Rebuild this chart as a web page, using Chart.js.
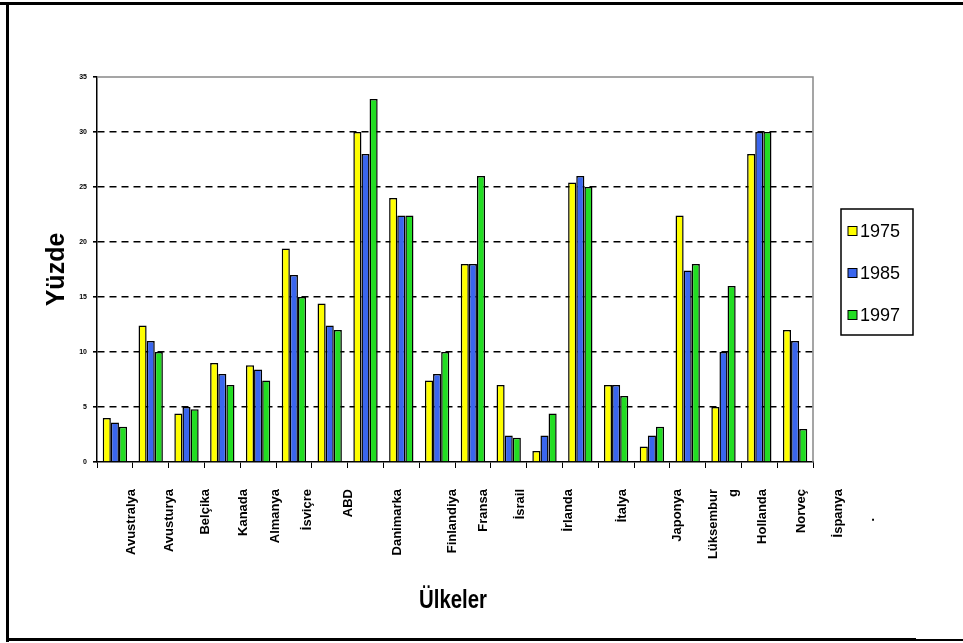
<!DOCTYPE html>
<html>
<head>
<meta charset="utf-8">
<title>Ülkeler - Yüzde</title>
<script src="https://cdn.jsdelivr.net/npm/chart.js@4.4.0/dist/chart.umd.min.js"></script>
<style>
	body { margin: 0; background: #fff; }
	canvas { display: block; }
</style>
</head>
<body>
<canvas id="ulkelerChart" width="963" height="643"></canvas>
<script>
// bar groups, left to right (20 groups in the picture)
const groups = ['1', '2', '3', '4', '5', '6', '7', '8', '9', '10',
	'11', '12', '13', '14', '15', '16', '17', '18', '19', '20'];

const years = ['1975', '1985', '1997'];

const values1975 = [4, 12.4, 4.4, 9, 8.8, 19.4, 14.4, 30, 24, 7.4, 18, 7, 1, 25.4, 7, 1.4, 22.4, 5, 28, 12];
const values1985 = [3.6, 11, 5, 8, 8.4, 17, 12.4, 28, 22.4, 8, 18, 2.4, 2.4, 26, 7, 2.4, 17.4, 10, 30, 11];
const values1997 = [3.2, 10, 4.8, 7, 7.4, 15, 12, 33, 22.4, 10, 26, 2.2, 4.4, 25, 6, 3.2, 18, 16, 30, 3];

// country names as printed under the axis (they do not line up with the bars)
const tickLabels = ['Avustralya', 'Avusturya', 'Belçika', 'Kanada', 'Almanya', 'İsviçre', 'ABD',
	'Danimarka', 'Finlandiya', 'Fransa', 'İsrail', 'İrlanda', 'İtalya', 'Japonya',
	['Lüksembur', 'g'], 'Hollanda', 'Norveç', 'İspanya', '.        '];

const yTicks = [0, 5, 10, 15, 20, 25, 30, 35];

// where each printed name sits, in category units along the x scale
const labelSlots = [0.47, 1.51, 2.54, 3.58, 4.47, 5.37, 6.51, 7.88, 9.44, 10.28, 11.32,
	12.66, 14.19, 15.70, 16.99, 18.10, 19.19, 20.20, 21.09];

const colors = ['#FFFF00', '#3A66EE', '#22DD22'];

const framePlugin = {
	id: 'framePlugin',
	afterDraw(chart) {
		const ctx = chart.ctx;
		const area = chart.chartArea;
		const x = chart.scales.x;

		ctx.save();
		// grey top and right edge of the plot area
		ctx.strokeStyle = '#888';
		ctx.lineWidth = 1.5;
		ctx.beginPath();
		ctx.moveTo(area.left, area.top);
		ctx.lineTo(area.right, area.top);
		ctx.lineTo(area.right, area.bottom);
		ctx.stroke();

		// country names
		ctx.fillStyle = '#000';
		ctx.font = 'bold 13px "Liberation Sans", Arial, sans-serif';
		ctx.textAlign = 'right';
		ctx.textBaseline = 'middle';
		for (let i = 0; i < tickLabels.length; i++) {
			const lines = Array.isArray(tickLabels[i]) ? tickLabels[i] : [tickLabels[i]];
			const px = x.getPixelForValue(labelSlots[i]);
			ctx.save();
			ctx.translate(px, area.bottom + 27);
			ctx.rotate(-Math.PI / 2);
			for (let j = 0; j < lines.length; j++) {
				ctx.fillText(lines[j], 0, (j - (lines.length - 1) / 2) * 20);
			}
			ctx.restore();
		}

		// x axis title, narrow bold face squeezed to the printed width
		ctx.save();
		ctx.font = 'bold 25px "Liberation Sans", Arial, sans-serif';
		ctx.textAlign = 'center';
		const w = ctx.measureText('Ülkeler').width;
		ctx.translate((area.left + area.right) / 2 - 2, 601);
		ctx.scale(68 / w, 1);
		ctx.fillText('Ülkeler', 0, 0);
		ctx.restore();

		// legend box
		ctx.lineWidth = 1.5;
		ctx.strokeStyle = '#000';
		ctx.strokeRect(841, 209, 72, 126);
		ctx.font = '18px "Liberation Sans", Arial, sans-serif';
		ctx.textAlign = 'left';
		chart.data.datasets.forEach((ds, i) => {
			const cy = 231 + i * 42;
			ctx.fillStyle = ds.backgroundColor;
			ctx.fillRect(848, cy - 4.5, 9, 9);
			ctx.lineWidth = 1;
			ctx.strokeRect(848, cy - 4.5, 9, 9);
			ctx.fillStyle = '#000';
			ctx.fillText(ds.label, 860, cy + 1);
		});

		// outer frame of the figure
		ctx.fillStyle = '#000';
		ctx.fillRect(0, 2, 963, 3);
		ctx.fillRect(6, 2, 3, 640);
		ctx.fillRect(6, 638, 910, 3);
		ctx.fillRect(916, 639, 47, 2);
		ctx.restore();
	}
};

const ctx = document.getElementById('ulkelerChart').getContext('2d');
const myChart = new Chart(ctx, {
	type: 'bar',
	data: {
		labels: groups,
		datasets: [
			{ label: years[0], data: values1975, backgroundColor: colors[0] },
			{ label: years[1], data: values1985, backgroundColor: colors[1] },
			{ label: years[2], data: values1997, backgroundColor: colors[2] }
		].map(ds => Object.assign(ds, {
			borderColor: '#000',
			borderWidth: 1.5,
			barPercentage: 1,
			categoryPercentage: 0.68
		}))
	},
	options: {
		responsive: false,
		animation: false,
		layout: {
			padding: { left: 0, top: 77, right: 150, bottom: 0 }
		},
		plugins: {
			legend: { display: false },
			tooltip: { enabled: false }
		},
		scales: {
			x: {
				afterFit: scale => { scale.height = 181; },
				grid: {
					drawOnChartArea: false,
					color: '#000',
					tickLength: 6,
					lineWidth: 1
				},
				border: { color: '#000', width: 1.5 },
				ticks: { display: false }
			},
			y: {
				min: 0,
				max: 35,
				afterFit: scale => { scale.width = 97; },
				afterBuildTicks: scale => { scale.ticks = yTicks.map(v => ({ value: v })); },
				grid: {
					color: c => (c.tick.value === 0 || c.tick.value === 35) ? 'rgba(0,0,0,0)' : '#000',
					tickColor: '#000',
					lineWidth: 1.6,
					tickLength: 4
				},
				border: { color: '#000', width: 1.5, dash: [7, 5] },
				ticks: {
					color: '#000',
					padding: 6,
					font: { family: '"Liberation Sans", Arial, sans-serif', size: 7, weight: 'bold' }
				},
				title: {
					display: true,
					text: 'Yüzde',
					color: '#000',
					font: { family: '"Liberation Sans", Arial, sans-serif', size: 25, weight: 'bold' },
					padding: { top: 42, bottom: 0 }
				}
			}
		}
	},
	plugins: [framePlugin]
});
</script>
</body>
</html>
